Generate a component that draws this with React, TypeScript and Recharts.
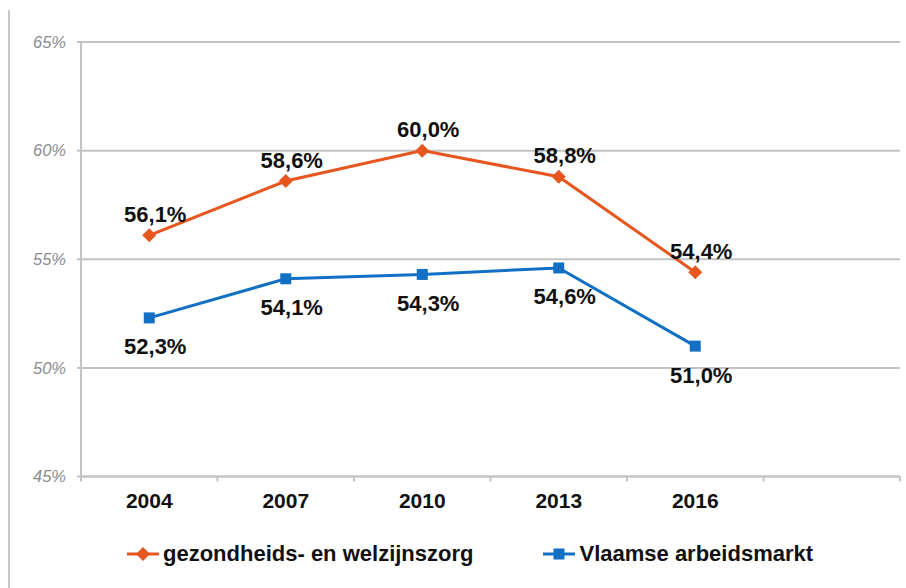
import React from "react"
import {
  LineChart,
  Line,
  XAxis,
  YAxis,
  CartesianGrid,
  Legend,
  LabelList,
} from "recharts"

const years = ["2004", "2007", "2010", "2013", "2016", ""]
const zorg = [56.1, 58.6, 60.0, 58.8, 54.4, null]
const vlaams = [52.3, 54.1, 54.3, 54.6, 51.0, null]
const yTicks = [45, 50, 55, 60, 65]
const seriesOrder = ["zorg", "vlaams"]

const data = years.map((year, i) => ({
  year,
  zorg: zorg[i],
  vlaams: vlaams[i],
}))

const ORANGE = "#E8561F"
const BLUE = "#1170C4"
const GRID = "#c3c3c3"
const FONT = "'Liberation Sans', Arial, sans-serif"

const W = 906
const H = 588
const LEFT = 81
const RIGHT = 6
const BAND = (W - LEFT - RIGHT) / years.length

const fmt = (v: number) => v.toFixed(1).replace(".", ",") + "%"

const Diamond = (props: any) => {
  const { cx, cy, value } = props
  if (value == null || cy == null) return <g />
  const r = 7
  return (
    <polygon
      points={`${cx},${cy - r} ${cx + r},${cy} ${cx},${cy + r} ${cx - r},${cy}`}
      fill={ORANGE}
    />
  )
}

const Square = (props: any) => {
  const { cx, cy, value } = props
  if (value == null || cy == null) return <g />
  return <rect x={cx - 5.5} y={cy - 5.5} width={11} height={11} fill={BLUE} />
}

const makeLabel = (dy: number) => (props: any) => {
  const { x, y, value } = props
  if (value == null) return null
  return (
    <text
      x={x + 6}
      y={y + dy}
      textAnchor="middle"
      dominantBaseline="central"
      fontFamily={FONT}
      fontWeight="bold"
      fontSize={22}
      fill="#111"
    >
      {fmt(value)}
    </text>
  )
}

const YearTick = (props: any) => {
  const { x, y, payload, index } = props
  return (
    <g>
      <line x1={x - BAND / 2} x2={x - BAND / 2} y1={y} y2={y + 5} stroke={GRID} strokeWidth={2} />
      {index === years.length - 1 && (
        <line x1={x + BAND / 2} x2={x + BAND / 2} y1={y} y2={y + 5} stroke={GRID} strokeWidth={2} />
      )}
      <text
        x={x}
        y={y + 24}
        textAnchor="middle"
        dominantBaseline="central"
        fontFamily={FONT}
        fontWeight="bold"
        fontSize={21}
        fill="#111"
      >
        {payload.value}
      </text>
    </g>
  )
}

const LegendContent = (props: any) => {
  const items = [...(props.payload || [])].sort(
    (a: any, b: any) => seriesOrder.indexOf(a.dataKey) - seriesOrder.indexOf(b.dataKey)
  )
  return (
    <div
      style={{
        display: "flex",
        alignItems: "center",
        paddingLeft: 127,
        gap: 70,
        fontFamily: FONT,
        fontWeight: "bold",
        fontSize: 22,
        color: "#111",
      }}
    >
      {items.map((item: any) => (
        <div key={item.dataKey} style={{ display: "flex", alignItems: "center" }}>
          <svg width={34} height={16} style={{ marginRight: 2 }}>
            <line x1={0} x2={32} y1={8} y2={8} stroke={item.color} strokeWidth={3} />
            {item.dataKey === "zorg" ? (
              <polygon points="16,1 23,8 16,15 9,8" fill={item.color} />
            ) : (
              <rect x={10.5} y={2.5} width={11} height={11} fill={item.color} />
            )}
          </svg>
          <span>{item.value}</span>
        </div>
      ))}
    </div>
  )
}

export default function App() {
  return (
    <div style={{ position: "absolute", left: 0, top: 0, width: W, height: H, background: "#fff" }}>
      <div style={{ position: "absolute", left: 8, top: 10, width: 2, height: H - 10, background: "#c8c8c8" }} />
      <LineChart
        width={W}
        height={H}
        data={data}
        margin={{ top: 42, right: RIGHT, left: 0, bottom: 81.5 }}
      >
        <CartesianGrid horizontal vertical={false} stroke={GRID} strokeWidth={2} />
        <XAxis
          dataKey="year"
          height={30}
          padding={{ left: BAND / 2, right: BAND / 2 }}
          tickLine={false}
          tickSize={0}
          tickMargin={0}
          axisLine={{ stroke: GRID, strokeWidth: 2 }}
          tick={<YearTick />}
          interval={0}
        />
        <YAxis
          width={LEFT}
          domain={[45, 65]}
          ticks={yTicks}
          tickFormatter={(v: number) => `${v}%`}
          tickSize={4}
          tickMargin={11}
          tickLine={{ stroke: GRID, strokeWidth: 2 }}
          axisLine={{ stroke: GRID, strokeWidth: 2 }}
          tick={{ fill: "#8c8c8c", fontStyle: "italic", fontSize: 16.5, fontFamily: FONT }}
        />
        <Legend
          layout="horizontal"
          verticalAlign="middle"
          align="center"
          wrapperStyle={{ top: 541, left: 0, width: W }}
          content={<LegendContent />}
        />
        <Line
          dataKey="zorg"
          name="gezondheids- en welzijnszorg"
          stroke={ORANGE}
          strokeWidth={3}
          dot={<Diamond />}
          activeDot={false}
          isAnimationActive={false}
        >
          <LabelList dataKey="zorg" content={makeLabel(-21)} />
        </Line>
        <Line
          dataKey="vlaams"
          name="Vlaamse arbeidsmarkt"
          stroke={BLUE}
          strokeWidth={3}
          dot={<Square />}
          activeDot={false}
          isAnimationActive={false}
        >
          <LabelList dataKey="vlaams" content={makeLabel(29)} />
        </Line>
      </LineChart>
    </div>
  )
}
